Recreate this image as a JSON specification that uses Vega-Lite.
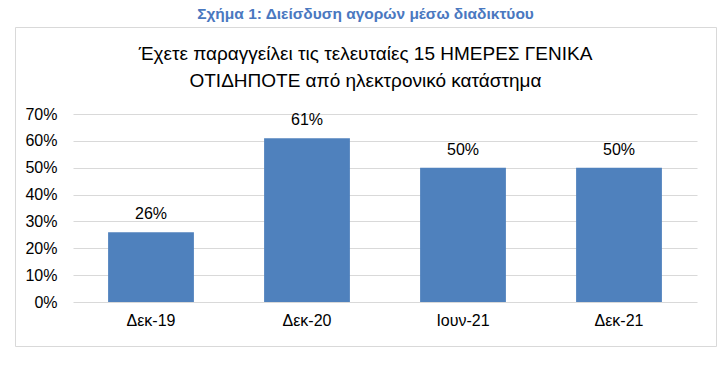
{
  "$schema": "https://vega.github.io/schema/vega-lite/v6.json",
  "autosize": {"type": "none"},
  "padding": {"left": 15, "top": 27, "right": 12, "bottom": 19},
  "width": 701,
  "height": 319,
  "background": "white",
  "config": {
    "view": {"stroke": "#d9d9d9", "strokeWidth": 1},
    "font": "Liberation Sans"
  },
  "title": {
    "text": "Σχήμα 1: Διείσδυση αγορών μέσω διαδικτύου",
    "subtitle": ["Έχετε παραγγείλει τις τελευταίες 15 ΗΜΕΡΕΣ ΓΕΝΙΚΑ", "ΟΤΙΔΗΠΟΤΕ από ηλεκτρονικό κατάστημα"],
    "anchor": "middle",
    "frame": "group",
    "offset": -64,
    "font": "'Liberation Sans Narrow', 'Liberation Sans', Arial",
    "fontSize": 15.5,
    "fontWeight": "bold",
    "color": "#4a78c0",
    "subtitleFont": "'Liberation Sans Narrow', 'Liberation Sans', Arial",
    "subtitleFontSize": 19,
    "subtitleColor": "#000000",
    "subtitleLineHeight": 27,
    "subtitlePadding": 23
  },
  "data": {
    "values": [
      {"period": "Δεκ-19", "value": 0.26},
      {"period": "Δεκ-20", "value": 0.61},
      {"period": "Ιουν-21", "value": 0.50},
      {"period": "Δεκ-21", "value": 0.50}
    ]
  },
  "encoding": {
    "x": {
      "field": "period",
      "type": "nominal",
      "sort": null,
      "scale": {"range": [58, 682], "paddingInner": 0.45, "paddingOuter": 0.225},
      "axis": {
        "title": null,
        "orient": "bottom",
        "offset": -44,
        "domain": false,
        "ticks": false,
        "tickSize": 0,
        "labelAngle": 0,
        "labelFont": "Liberation Sans",
        "labelFontSize": 16,
        "labelColor": "#000000",
        "labelPadding": 10
      }
    },
    "y": {
      "field": "value",
      "type": "quantitative",
      "scale": {"domain": [0, 0.7], "range": [275, 87]},
      "axis": {
        "title": null,
        "orient": "left",
        "offset": -58,
        "values": [0, 0.1, 0.2, 0.3, 0.4, 0.5, 0.6, 0.7],
        "format": ".0%",
        "domain": false,
        "ticks": false,
        "tickSize": 0,
        "grid": true,
        "gridColor": "#d9d9d9",
        "gridWidth": 1,
        "labelFont": "Liberation Sans",
        "labelFontSize": 16,
        "labelColor": "#000000",
        "labelPadding": 16
      }
    }
  },
  "layer": [
    {"mark": {"type": "bar", "color": "#4f81bd"}},
    {
      "mark": {"type": "text", "baseline": "alphabetic", "dy": -13, "fontSize": 16, "font": "Liberation Sans", "color": "#000000"},
      "encoding": {"text": {"field": "value", "type": "quantitative", "format": ".0%"}}
    }
  ]
}
